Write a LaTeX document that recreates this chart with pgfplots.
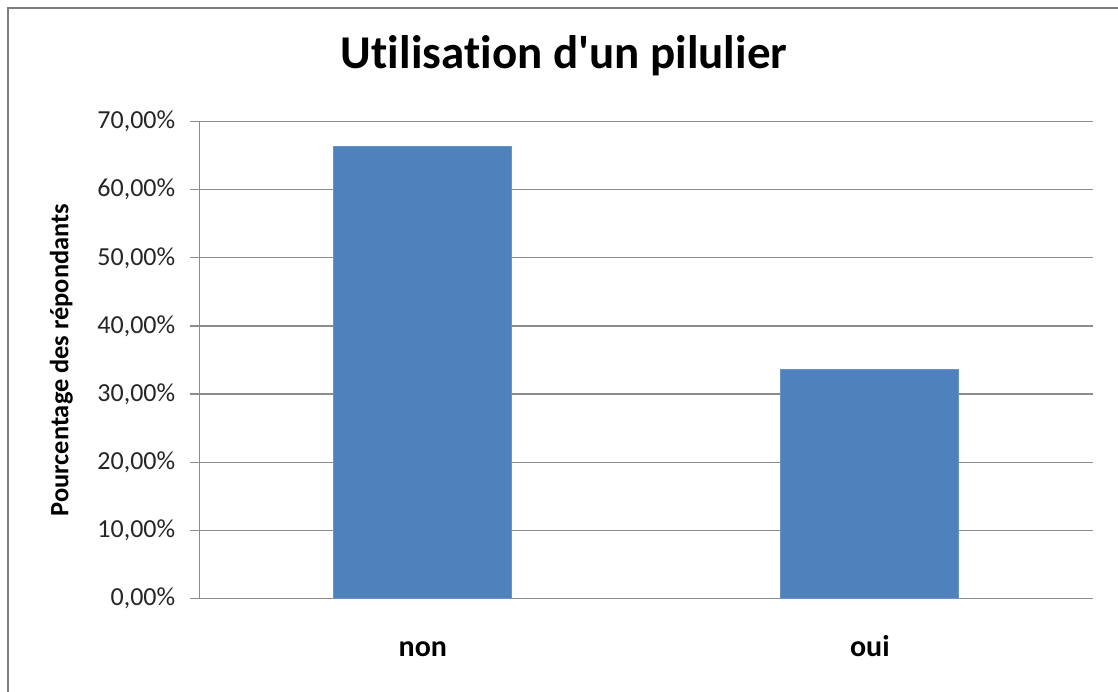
\documentclass[border=0pt]{standalone}
\usepackage{pgfplots}
\pgfplotsset{compat=1.18}
\usepackage{fontspec}
\setmainfont[Ligatures={TeX,NoCommon}]{Carlito}
\definecolor{barblue}{HTML}{4F81BD}
\definecolor{gridgray}{HTML}{8C8C8C}
\begin{document}
\begin{tikzpicture}
\useasboundingbox (0,0) rectangle (559pt,345.5pt);
\clip (0,0) rectangle (559pt,345.5pt);
\draw[color=gridgray!90!black, line width=1.2pt] (4pt,-20pt) rectangle (600pt,341.5pt);
\begin{axis}[
  at={(99.65pt,46.35pt)}, anchor=south west,
  scale only axis, width=447pt, height=238.3pt,
  xmin=-0.5, xmax=1.5, ymin=0, ymax=70,
  xtick={0,1}, xticklabels={non,oui},
  ytick={0,10,...,70},
  axis x line*=bottom, axis y line*=left,
  axis line style={gridgray, line width=0.6pt},
  ymajorgrids, grid style={gridgray, line width=0.6pt},
  major tick length=4.5pt,
  xtick style={draw=none},
  ytick style={gridgray, line width=0.6pt},
  tick align=outside,
  yticklabel={\pgfmathprintnumber[fixed,fixed zerofill,precision=2,use comma,assume math mode=true]{\tick}\%},
  yticklabel style={font=\fontsize{13}{15}\selectfont, text=black!85, xshift=-4pt},
  xticklabel style={font=\bfseries\fontsize{15}{17}\selectfont, text height=1.5ex, text depth=0.3ex, yshift=-14pt},
  ylabel={Pourcentage des répondants},
  every axis y label/.style={at={(axis description cs:-0.1544,0.5)}, anchor=center, rotate=90, font=\bfseries\fontsize{13.2}{15}\selectfont},
  title={Utilisation d\textquotesingle un pilulier},
  title style={font=\bfseries\fontsize{23.5}{27}\selectfont, at={(axis description cs:0.408,1.0875)}, anchor=base},
  clip=false,
]
\addplot[ybar, bar width=89pt, fill=barblue, draw=barblue!85!white, line width=0.5pt] coordinates {(0,66.4) (1,33.6)};
\end{axis}
\end{tikzpicture}
\end{document}
